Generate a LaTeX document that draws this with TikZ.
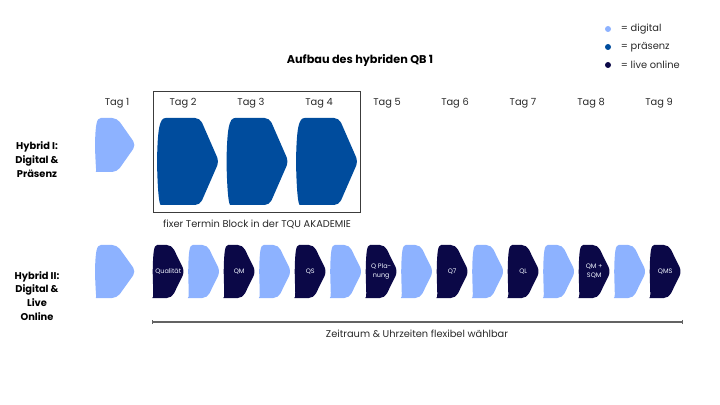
\documentclass[tikz,border=0pt]{standalone}
\usepackage{fontspec}
\setmainfont{Poppins}
\usepackage{tikz}
\usetikzlibrary{arrows.meta}
\definecolor{Digital}{RGB}{141,178,255}
\definecolor{Praesenz}{RGB}{0,76,157}
\definecolor{Live_Online}{RGB}{11,8,71}
\definecolor{Frame}{RGB}{60,60,60}
\definecolor{Note}{RGB}{40,40,40}

% chevron: colour, left x, top y, width, height, tip depth
\newcommand{\chevron}[6]{%
    \fill[#1]
    (#2,#3+0.5*#5) .. controls (#2+0.01*#4,#3+0.12*#5) and (#2+0.04*#4,#3) .. (#2+0.14*#4,#3)
    [rounded corners=3.5pt] -- (#2+#4-#6,#3) -- (#2+#4,#3+0.5*#5)
    -- (#2+#4-#6,#3+#5) -- (#2+0.14*#4,#3+#5) [sharp corners]
    .. controls (#2+0.04*#4,#3+#5) and (#2+0.01*#4,#3+0.88*#5) .. cycle;
}

\begin{document}
\begin{tikzpicture}[x=0.025cm,y=-0.025cm,
    daytext/.style={font=\fontsize{7}{8}\selectfont, text=Note},
    rowtext/.style={font=\bfseries\fontsize{7}{9.9}\selectfont, align=center, text=black},
    intext/.style={font=\fontsize{4.6}{6.6}\selectfont, align=center, text=white!88!Digital}]
    %% Background
    \useasboundingbox (0,0) rectangle (720,405);

    %% Title and legend
    \node[font=\bfseries\fontsize{8}{9}\selectfont] (title) at (360,60) {Aufbau des hybriden QB 1};
    \foreach \c/\t/\y in {Digital/digital/29,Praesenz/präsenz/47,Live_Online/live online/65}
    {
        \fill[\c] (608,\y) circle (3);
        \node[daytext, anchor=west] (legend-\c) at (616,\y) {= \t};
    }

    %% Days
    \node[daytext] (tag1) at (117,103) {Tag 1};
    \foreach \k in {2,...,9}
    {
        \node[daytext] (tag\k) at ({183+68*(\k-2)},103) {Tag \k};
    }

    %% Hybrid I
    \node[rowtext] (hybrid1) at (37,160) {Hybrid I:\\Digital \&\\Präsenz};
    \draw[Frame, line width=0.6pt] (153,91) rectangle (360,212);
    \chevron{Digital}{95}{118}{41}{54}{19}
    \foreach \x in {157,226.5,296}
    {
        \chevron{Praesenz}{\x}{118}{62}{87}{19}
    }
    \node[daytext] (block) at (257,224) {fixer Termin Block in der TQU AKADEMIE};

    %% Hybrid II
    \node[rowtext] (hybrid2) at (37,296) {Hybrid II:\\Digital \&\\Live\\Online};
    \chevron{Digital}{95}{245}{41}{53}{19}
    \foreach \k/\t in {0/Qualität,2/QM,4/QS,6/{Q Pla-\\nung},8/Q7,10/QL,12/{QM +\\SQM},14/QMS}
    {
        \chevron{Live_Online}{152.7+35.5*\k}{245}{32}{53}{13}
        \node[intext] (module\k) at ({152.7+35.5*\k+15.5},271.5) {\t};
    }
    \foreach \k in {1,3,...,13}
    {
        \chevron{Digital}{152.7+35.5*\k}{245}{32}{53}{13}
    }

    %% Time span
    \coordinate (span-a) at (152,322);
    \coordinate (span-b) at (683,322);
    \draw[Frame!80, line width=0.8pt, {Bar[width=3pt]}-{Bar[width=3pt]}] (span-a) -- (span-b);
    \node[daytext] (span) at (417,334) {Zeitraum \& Uhrzeiten flexibel wählbar};
\end{tikzpicture}
\end{document}
